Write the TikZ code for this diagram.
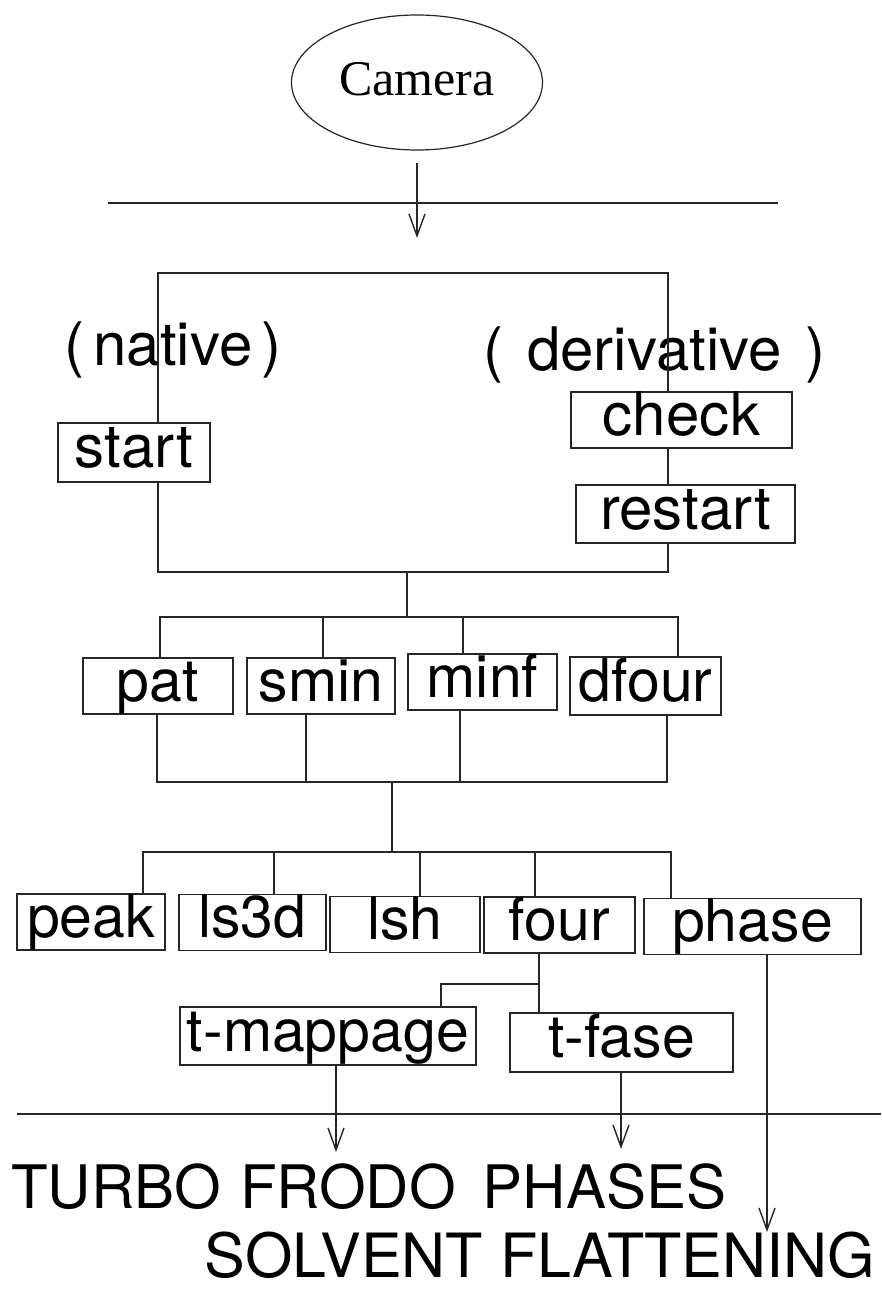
\documentclass[tikz,border=0pt]{standalone}
\usepackage{fontspec}
\setmainfont{TeX Gyre Heros}
\newfontfamily\camfont{Liberation Serif}
\usetikzlibrary{arrows.meta,shapes.geometric}
\begin{document}
\begin{tikzpicture}[x=1pt,y=-1pt,
  ln/.style={line width=1.4pt, draw=black!85},
  arr/.style={ln, -{Straight Barb[length=22pt,width=16pt]}},
  bx/.style={draw=black!85, line width=1.4pt, inner sep=0pt,
    font=\fontsize{59}{61}\selectfont, text height=43pt, text depth=13pt},
  lab/.style={inner sep=0pt, anchor=base, font=\fontsize{60}{62}\selectfont},
]
\useasboundingbox[fill=white] (0,0) rectangle (881,1289);

% Camera
\node[ellipse, draw=black!85, line width=1.2pt, minimum width=251pt, minimum height=135pt,
  inner sep=0pt, font=\camfont\fontsize{50}{52}\selectfont, text height=33pt, text depth=6pt]
  (camera) at (417,82.5) {Camera};
\coordinate (camtip) at (417,238);
\draw[arr] (camera.south |- 0,163) -- (camtip);
\coordinate (topl) at (108,203);
\coordinate (topr) at (778,203);
\draw[ln] (topl) -- (topr);

% native / derivative
\node[lab] (native) at (173,365) {(\hspace{0.15em}native\hspace{0.15em})};
\node[lab] (deriv) at (654.5,370) {(\hspace{0.4em}derivative\hspace{0.4em})};

\node[bx, font=\fontsize{60}{62}\selectfont, minimum width=152pt, minimum height=59pt] (start) at (134,452.5) {start};
\node[bx, font=\fontsize{60}{62}\selectfont, minimum width=221pt, minimum height=56pt] (check) at (681.5,420) {check};
\node[bx, font=\fontsize{60}{62}\selectfont, minimum width=219pt, minimum height=58pt] (restart) at (685.5,514) {restart};

\coordinate (tl) at (158,273);
\coordinate (tr) at (668,273);
\draw[ln] (start.north -| tl) -- (tl) -- (tr) -- (check.north -| tr);
\draw[ln] (check.south -| tr) -- (restart.north -| tr);
\coordinate (bl) at (158,572);
\coordinate (br) at (668,572);
\draw[ln] (start.south -| bl) -- (bl) -- (br) -- (restart.south -| br);
\coordinate (s1a) at (407,572);
\coordinate (s1b) at (407,617);
\draw[ln] (s1a) -- (s1b);

% second row
\node[bx, minimum width=150pt, minimum height=56pt] (pat) at (158,686) {pat};
\node[bx, minimum width=148pt, minimum height=56pt] (smin) at (321,686) {smin};
\node[bx, minimum width=149pt, minimum height=56pt] (minf) at (482.5,682) {minf};
\node[bx, minimum width=151pt, minimum height=58pt] (dfour) at (645.5,686) {dfour};

\coordinate (h2l) at (160,617);
\coordinate (h2r) at (678,617);
\coordinate (h2a) at (323,617);
\coordinate (h2b) at (463,617);
\draw[ln] (pat.north -| h2l) -- (h2l) -- (h2r) -- (dfour.north -| h2r);
\draw[ln] (h2a) -- (smin.north -| h2a);
\draw[ln] (h2b) -- (minf.north -| h2b);

\coordinate (h3l) at (157,782);
\coordinate (h3r) at (667,782);
\coordinate (h3a) at (306,782);
\coordinate (h3b) at (460,782);
\draw[ln] (pat.south -| h3l) -- (h3l) -- (h3r) -- (dfour.south -| h3r);
\draw[ln] (smin.south -| h3a) -- (h3a);
\draw[ln] (minf.south -| h3b) -- (h3b);
\coordinate (s2a) at (392,782);
\coordinate (s2b) at (392,852);
\draw[ln] (s2a) -- (s2b);

% third row
\node[bx, minimum width=148pt, minimum height=52pt] (peak) at (91,922) {peak};
\node[bx, minimum width=147pt, minimum height=55pt] (ls3d) at (252.5,922.5) {ls3d};
\node[bx, minimum width=150pt, minimum height=53pt] (lsh) at (405,924.5) {lsh};
\node[bx, minimum width=151pt, minimum height=54pt] (four) at (559.5,925) {four};
\node[bx, minimum width=217pt, minimum height=55pt] (phase) at (752.5,926.5) {phase};

\coordinate (h4l) at (143,852);
\coordinate (h4r) at (671,852);
\coordinate (h4a) at (274,852);
\coordinate (h4b) at (420,852);
\coordinate (h4c) at (535,852);
\draw[ln] (peak.north -| h4l) -- (h4l) -- (h4r) -- (phase.north -| h4r);
\draw[ln] (h4a) -- (ls3d.north -| h4a);
\draw[ln] (h4b) -- (lsh.north -| h4b);
\draw[ln] (h4c) -- (four.north -| h4c);

% fourth row
\node[bx, minimum width=296pt, minimum height=58pt] (tmap) at (328,1036) {t-mappage};
\node[bx, minimum width=223pt, minimum height=59pt] (tfase) at (621.5,1042.5) {t-fase};

\coordinate (f1) at (539,984);
\coordinate (f2) at (441,984);
\draw[ln] (four.south -| f1) -- (tfase.north -| f1);
\draw[ln] (f1) -- (f2) -- (tmap.north -| f2);

% bottom line and arrows
\coordinate (botl) at (17,1114);
\coordinate (botr) at (881,1114);
\draw[ln] (botl) -- (botr);

\coordinate (a1) at (336,1152);
\coordinate (a2) at (621,1149);
\coordinate (a3) at (767,1232);
\draw[arr] (tmap.south -| a1) -- (a1);
\draw[arr] (tfase.south -| a2) -- (a2);
\draw[arr] (phase.south -| a3) -- (a3);

\node[lab, anchor=base west] (turbo) at (11,1208) {TURBO\hspace{0.32em}FRODO\hspace{0.45em}PHASES};
\node[lab, anchor=base east, font=\fontsize{61}{63}\selectfont] (solvent) at (875,1277) {SOLVENT FLATTENING};
\end{tikzpicture}
\end{document}
